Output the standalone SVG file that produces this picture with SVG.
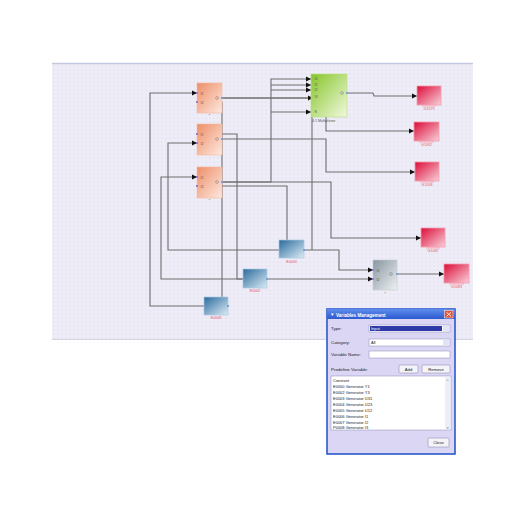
<svg xmlns="http://www.w3.org/2000/svg" width="512" height="512" viewBox="0 0 512 512">
<style>
.wire{fill:none;stroke:#6e6e6e;stroke-width:1.1}
.t{font-family:"Liberation Sans",Arial,sans-serif}
.pl{font-family:"Liberation Sans",Arial,sans-serif;font-size:3.6px;fill:#555}
.rl{font-family:"Liberation Sans",Arial,sans-serif;font-size:3.6px;fill:#e8506a;text-anchor:middle}
.bl{font-family:"Liberation Sans",Arial,sans-serif;font-size:3.6px;fill:#e8506a;text-anchor:middle}
.dl{font-family:"Liberation Sans",Arial,sans-serif;font-size:4.4px;fill:#222}
.inp{fill:#8a80d6}
.outp{fill:#7aa0e0}
</style>
<defs>
<pattern id="dots" width="4" height="4" patternUnits="userSpaceOnUse">
<circle cx="2" cy="2" r="0.55" fill="#d5d1e8"/>
</pattern>
<linearGradient id="gOr" x1="0" y1="0" x2="1" y2="1">
<stop offset="0" stop-color="#ee8e68"/><stop offset="1" stop-color="#fde9df"/>
</linearGradient>
<linearGradient id="gGr" x1="0" y1="0" x2="1" y2="1">
<stop offset="0" stop-color="#86c62a"/><stop offset="1" stop-color="#f1f9df"/>
</linearGradient>
<linearGradient id="gRd" x1="0" y1="0" x2="1" y2="1">
<stop offset="0" stop-color="#dc0c38"/><stop offset="1" stop-color="#f9d0da"/>
</linearGradient>
<linearGradient id="gBl" x1="0" y1="0" x2="1" y2="1">
<stop offset="0" stop-color="#2a6a9c"/><stop offset="1" stop-color="#dcecf6"/>
</linearGradient>
<linearGradient id="gGy" x1="0" y1="0" x2="1" y2="1">
<stop offset="0" stop-color="#8796a0"/><stop offset="1" stop-color="#eef1f3"/>
</linearGradient>
<linearGradient id="gTitle" x1="0" y1="0" x2="0" y2="1">
<stop offset="0" stop-color="#5f8cec"/><stop offset="1" stop-color="#2c5ad0"/>
</linearGradient>
<marker id="arr" markerWidth="6" markerHeight="6" refX="5" refY="3" orient="auto" markerUnits="userSpaceOnUse">
<path d="M0,0.5 L5,3 L0,5.5 Z" fill="#111"/>
</marker>
</defs>

<rect width="512" height="512" fill="#ffffff"/>
<g id="canvas">
<rect x="52" y="63" width="421" height="277" fill="#eeecf7"/>
<rect x="52" y="63" width="421" height="277" fill="url(#dots)"/>
<line x1="52" y1="63.5" x2="473" y2="63.5" stroke="#c5c9df" stroke-width="1.5"/>
<line x1="52" y1="339.5" x2="473" y2="339.5" stroke="#d3d3e3" stroke-width="1"/>
</g>

<g id="connectors">
<polyline class="wire" points="228,306 150,306 150,93 197,93" marker-end="url(#arr)"/>
<polyline class="wire" points="222,306 222,102 199,102" marker-end="url(#arr)"/>
<polyline class="wire" points="304,250 168,250 168,143 197,143" marker-end="url(#arr)"/>
<polyline class="wire" points="267,279 161,279 161,177 197,177" marker-end="url(#arr)"/>
<polyline class="wire" points="267,279 237,279 237,134 199,134" marker-end="url(#arr)"/>
<polyline class="wire" points="304,250 287,250 287,186 199,186" marker-end="url(#arr)"/>
<polyline class="wire" points="304,250 339,250 339,270 373,270" marker-end="url(#arr)"/>
<polyline class="wire" points="267,279 373,279" marker-end="url(#arr)"/>
<polyline class="wire" points="312,250 312,117"/>
<polyline class="wire" points="222,98 326,98 326,131 414,131" marker-end="url(#arr)"/>
<polyline class="wire" points="222,98 313,98" marker-end="url(#arr)"/>
<polyline class="wire" points="222,182 271,182 271,79 311,79" marker-end="url(#arr)"/>
<polyline class="wire" points="271,85 311,85" marker-end="url(#arr)"/>
<polyline class="wire" points="271,90 311,90" marker-end="url(#arr)"/>
<polyline class="wire" points="271,112 311,112" marker-end="url(#arr)"/>
<polyline class="wire" points="222,182 331,182 331,238 421,238" marker-end="url(#arr)"/>
<polyline class="wire" points="222,139 326,139 326,172 415,172" marker-end="url(#arr)"/>
<polyline class="wire" points="347,93 373,93 374,96 417,96" marker-end="url(#arr)"/>
<polyline class="wire" points="397,274 444,274" marker-end="url(#arr)"/>
</g>

<g id="blockA">
<rect x="197" y="83" width="25" height="30" fill="url(#gOr)" stroke="#f3b9a2" stroke-width="0.6"/>
<rect class="inp" x="196" y="92" width="2" height="2"/><rect class="inp" x="196" y="101" width="2" height="2"/>
<rect class="outp" x="221" y="97" width="2" height="2"/>
<text class="pl" x="200.5" y="94.5">I1</text><text class="pl" x="200.5" y="103.5">I2</text>
<circle cx="217" cy="98" r="1.4" fill="none" stroke="#777" stroke-width="0.5"/>
<text class="pl" x="209.5" y="117" text-anchor="middle">*</text>
</g>
<g id="blockB">
<rect x="197" y="124" width="25" height="31" fill="url(#gOr)" stroke="#f3b9a2" stroke-width="0.6"/>
<rect class="inp" x="196" y="133" width="2" height="2"/><rect class="inp" x="196" y="142" width="2" height="2"/>
<rect class="outp" x="221" y="138" width="2" height="2"/>
<text class="pl" x="200.5" y="135.5">I1</text><text class="pl" x="200.5" y="144.5">I2</text>
<circle cx="217" cy="139" r="1.4" fill="none" stroke="#777" stroke-width="0.5"/>
<text class="pl" x="209.5" y="159" text-anchor="middle">·</text>
</g>
<g id="blockC">
<rect x="197" y="167" width="25" height="31" fill="url(#gOr)" stroke="#f3b9a2" stroke-width="0.6"/>
<rect class="inp" x="196" y="176" width="2" height="2"/><rect class="inp" x="196" y="185" width="2" height="2"/>
<rect class="outp" x="221" y="181" width="2" height="2"/>
<text class="pl" x="200.5" y="178.5">I1</text><text class="pl" x="200.5" y="187.5">I2</text>
<circle cx="217" cy="182" r="1.4" fill="none" stroke="#777" stroke-width="0.5"/>
<text class="pl" x="209.5" y="202" text-anchor="middle">*</text>
</g>

<g id="mux">
<rect x="311" y="74" width="36" height="43" fill="url(#gGr)" stroke="#b7dc7a" stroke-width="0.6"/>
<text class="pl" x="314.5" y="80.3">I0</text><text class="pl" x="314.5" y="86.3">I1</text>
<text class="pl" x="314.5" y="91.3">I2</text><text class="pl" x="314.5" y="98.3">I3</text>
<text class="pl" x="314.5" y="113.3">S</text>
<circle cx="342" cy="93" r="1.4" fill="none" stroke="#777" stroke-width="0.5"/>
<rect class="outp" x="346" y="92" width="2" height="2"/>
<text class="pl" x="312" y="121.5">4:1 Multiplexer</text>
</g>

<g id="out1">
<rect x="417" y="86" width="24" height="19" fill="url(#gRd)" stroke="#f29bb0" stroke-width="0.8"/>
<rect x="422" y="105" width="14" height="1.6" fill="#f6b5c4"/>
<text class="rl" x="429" y="110">G1079</text>
</g>
<g id="out2">
<rect x="414" y="122" width="25" height="19" fill="url(#gRd)" stroke="#f29bb0" stroke-width="0.8"/>
<rect x="419" y="141" width="15" height="1.6" fill="#f6b5c4"/>
<text class="rl" x="426.5" y="146">G1092</text>
</g>
<g id="out3">
<rect x="415" y="162" width="24" height="19" fill="url(#gRd)" stroke="#f29bb0" stroke-width="0.8"/>
<rect x="420" y="181" width="14" height="1.6" fill="#f6b5c4"/>
<text class="rl" x="427" y="186">G1008</text>
</g>
<g id="out4">
<rect x="421" y="228" width="24" height="19" fill="url(#gRd)" stroke="#f29bb0" stroke-width="0.8"/>
<rect x="426" y="247" width="14" height="1.6" fill="#f6b5c4"/>
<text class="rl" x="433" y="252">G1082</text>
</g>
<g id="out5">
<rect x="444" y="264" width="25" height="19" fill="url(#gRd)" stroke="#f29bb0" stroke-width="0.8"/>
<rect x="449" y="283" width="15" height="1.6" fill="#f6b5c4"/>
<text class="rl" x="456.5" y="288">G1083</text>
</g>

<g id="mult">
<rect x="373" y="260" width="24" height="30" fill="url(#gGy)" stroke="#c3cbd0" stroke-width="0.6"/>
<rect class="inp" x="372" y="269" width="2" height="2"/><rect class="inp" x="372" y="278" width="2" height="2"/>
<rect class="outp" x="396" y="273" width="2" height="2"/>
<text class="pl" x="376.5" y="271.5">I1</text><text class="pl" x="376.5" y="280.5">I2</text>
<circle cx="391" cy="274" r="1.4" fill="none" stroke="#777" stroke-width="0.5"/>
<text class="pl" x="385" y="295" text-anchor="middle">*</text>
</g>

<g id="src1">
<rect x="279" y="240" width="25" height="18" fill="url(#gBl)" stroke="#a9c8e0" stroke-width="0.7"/>
<rect class="outp" x="303" y="249" width="2" height="2"/>
<text class="bl" x="291.5" y="262.5">E0003</text>
</g>
<g id="src2">
<rect x="243" y="269" width="24" height="19" fill="url(#gBl)" stroke="#a9c8e0" stroke-width="0.7"/>
<rect class="outp" x="266" y="278" width="2" height="2"/>
<text class="bl" x="255" y="292">E0002</text>
</g>
<g id="src3">
<rect x="204" y="297" width="24" height="18" fill="url(#gBl)" stroke="#a9c8e0" stroke-width="0.7"/>
<rect class="outp" x="227" y="305" width="2" height="2"/>
<text class="bl" x="216" y="319">E0008</text>
</g>

<g id="dialog">
<rect x="327" y="309" width="128" height="145" fill="#dad6f4" stroke="#2b58cc" stroke-width="1.6"/>
<rect x="327" y="309" width="128" height="10" fill="url(#gTitle)"/>
<text class="t" x="331" y="316.3" font-size="4.6" fill="#fff">▾</text>
<text class="t" x="336" y="316.5" font-size="4.6" font-weight="bold" fill="#fff">Variables Management</text>
<rect x="444.5" y="310.5" width="8.5" height="7.5" fill="#e0553a" stroke="#fff" stroke-width="0.5"/>
<path d="M446.5,312.3 L451,316.3 M451,312.3 L446.5,316.3" stroke="#fff" stroke-width="0.9"/>
<text class="dl" x="331" y="329.5">Type:</text>
<rect x="369" y="325" width="81" height="7" fill="#fff" stroke="#8c8cb8" stroke-width="0.5"/>
<rect x="370" y="326" width="72" height="5" fill="#2e3aa8"/>
<text class="t" x="371" y="330.2" font-size="4" fill="#fff">Input</text>
<rect x="443" y="326" width="6.5" height="5" fill="#dfe4f6"/>
<text class="dl" x="331" y="344">Category:</text>
<rect x="369" y="339" width="81" height="7" fill="#fff" stroke="#8c8cb8" stroke-width="0.5"/>
<text class="t" x="371" y="344.2" font-size="4" fill="#222">All</text>
<rect x="443" y="340" width="6.5" height="5" fill="#dfe4f6"/>
<text class="dl" x="331" y="356">Variable Name:</text>
<rect x="369" y="351" width="81" height="7" fill="#fff" stroke="#8c8cb8" stroke-width="0.5"/>
<text class="dl" x="331" y="371">Predefine Variable:</text>
<rect x="399" y="365" width="19" height="8" rx="1" fill="#f4f4f8" stroke="#7f7fa8" stroke-width="0.5"/>
<text class="t" x="408.5" y="370.5" font-size="4.2" fill="#222" text-anchor="middle">Add</text>
<rect x="422" y="365" width="28" height="8" rx="1" fill="#f4f4f8" stroke="#7f7fa8" stroke-width="0.5"/>
<text class="t" x="436" y="370.5" font-size="4.2" fill="#222" text-anchor="middle">Remove</text>
<rect x="331" y="376" width="120" height="54" fill="#fff" stroke="#8c8cb8" stroke-width="0.5"/>
<rect x="445" y="377" width="5.5" height="52" fill="#eceef8"/>
<text class="t" x="447.7" y="381.5" font-size="3.5" fill="#4a5aa8" text-anchor="middle">^</text>
<text class="t" x="447.7" y="428.5" font-size="3.5" fill="#4a5aa8" text-anchor="middle">v</text>
<g class="t" font-size="4" fill="#222">
<text x="333" y="381.5">Constant</text>
<text x="333" y="387.5">E0000 Generator Y1</text>
<text x="333" y="393.5">E0002 Generator Y3</text>
<text x="333" y="399.5">E0003 Generator U31</text>
<text x="333" y="405.5">E0004 Generator U23</text>
<text x="333" y="411.5">E0005 Generator U12</text>
<text x="333" y="417.5">E0006 Generator I1</text>
<text x="333" y="423.5">E0007 Generator I2</text>
<text x="333" y="429">P0008 Generator I3</text>
</g>
<rect x="428" y="438" width="21" height="9" rx="1" fill="#f4f4f8" stroke="#7f7fa8" stroke-width="0.5"/>
<text class="t" x="438.5" y="444" font-size="4.2" fill="#222" text-anchor="middle">Close</text>
</g>
</svg>
